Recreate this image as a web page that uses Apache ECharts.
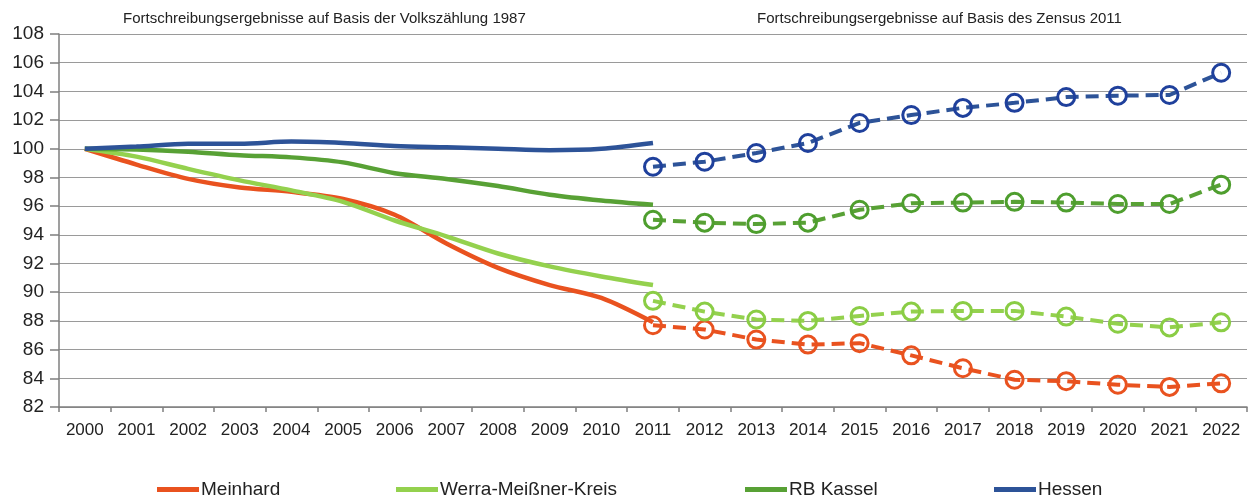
<!DOCTYPE html>
<html><head><meta charset="utf-8">
<script src="https://cdn.jsdelivr.net/npm/echarts@6/dist/echarts.min.js"></script>
<style>html,body{margin:0;padding:0;background:#fff}#c{width:1257px;height:500px}</style>
</head><body><div id="c"></div>
<script>
const years = ['2000','2001','2002','2003','2004','2005','2006','2007','2008','2009','2010','2011','2012','2013','2014','2015','2016','2017','2018','2019','2020','2021','2022'];
const yTicks = {min: 82, max: 108, step: 2};
const titleLeft = 'Fortschreibungsergebnisse auf Basis der Volkszählung 1987';
const titleRight = 'Fortschreibungsergebnisse auf Basis des Zensus 2011';
const seriesNames = ['Meinhard', 'Werra-Meißner-Kreis', 'RB Kassel', 'Hessen'];

// 2000-2011 (Basis Volkszählung 1987)
const meinhardOld = [100, 98.9, 97.9, 97.3, 97.0, 96.5, 95.4, 93.4, 91.7, 90.5, 89.6, 87.9];
const werraOld    = [100, 99.45, 98.6, 97.8, 97.1, 96.3, 95.0, 93.9, 92.7, 91.8, 91.1, 90.5];
const kasselOld   = [100, 99.95, 99.8, 99.55, 99.4, 99.05, 98.3, 97.9, 97.4, 96.8, 96.4, 96.1];
const hessenOld   = [100, 100.15, 100.35, 100.35, 100.5, 100.4, 100.2, 100.1, 100.0, 99.9, 100.0, 100.4];

// 2011-2022 (Basis Zensus 2011)
const meinhardNew = [87.7, 87.4, 86.7, 86.35, 86.45, 85.6, 84.7, 83.9, 83.8, 83.55, 83.4, 83.65];
const werraNew    = [89.4, 88.65, 88.1, 88.0, 88.35, 88.65, 88.7, 88.7, 88.3, 87.8, 87.55, 87.9];
const kasselNew   = [95.05, 94.85, 94.75, 94.85, 95.75, 96.2, 96.25, 96.3, 96.25, 96.15, 96.15, 97.5];
const hessenNew   = [98.75, 99.1, 99.7, 100.4, 101.8, 102.35, 102.85, 103.2, 103.6, 103.7, 103.75, 105.3];

const colors = ['#E9521F', '#94D14E', '#58A135', '#2D5398'];
const markerColors = ['#E9521F', '#8ACD45', '#4E9E2E', '#1F409C'];

const oldData = [meinhardOld, werraOld, kasselOld, hessenOld];
const newData = [meinhardNew, werraNew, kasselNew, hessenNew];
const offset = years.indexOf('2011');

const series = [];
seriesNames.forEach((n, i) => {
  series.push({
    name: n, type: 'line', data: oldData[i], smooth: 0.3, showSymbol: false,
    lineStyle: {color: colors[i], width: 4.5}, itemStyle: {color: colors[i]},
    z: 2 + i
  });
});
seriesNames.forEach((n, i) => {
  const d = years.map((y, k) => k >= offset ? newData[i][k - offset] : null);
  series.push({
    name: n, type: 'line', data: d, smooth: false, symbol: 'circle', symbolSize: 17,
    lineStyle: {color: colors[i], width: 4, type: [13, 7]},
    itemStyle: {color: 'rgba(255,255,255,0)', borderColor: markerColors[i], borderWidth: 3},
    z: 6 + i
  });
});

const legendLefts = [152, 391, 740, 989];
const legends = seriesNames.map((n, i) => ({
  data: [{name: n, itemStyle: {color: colors[i]}}],
  left: legendLefts[i], top: 475, icon: 'rect', itemWidth: 42, itemHeight: 5,
  textStyle: {fontFamily: 'Liberation Sans, Arial', fontSize: 19, color: '#222', padding: [0,0,0,-3]},
  selectedMode: false
}));

const chart = echarts.init(document.getElementById('c'), null, {renderer: 'canvas'});
chart.setOption({
  animation: false,
  backgroundColor: '#fff',
  grid: {left: 59, right: 10, top: 34, bottom: 93, containLabel: false},
  legend: legends,
  graphic: [
    {type: 'text', left: 123, top: 11, style: {text: titleLeft, font: '15px "Liberation Sans", Arial', fill: '#222'}},
    {type: 'text', left: 757, top: 11, style: {text: titleRight, font: '15px "Liberation Sans", Arial', fill: '#222'}}
  ],
  xAxis: {
    type: 'category', data: years, boundaryGap: true,
    axisLine: {lineStyle: {color: '#7f7f7f', width: 1.5}},
    axisTick: {show: true, length: 5, lineStyle: {color: '#7f7f7f', width: 1.5}},
    axisLabel: {fontFamily: 'Liberation Sans, Arial', fontSize: 17, color: '#222', margin: 15, interval: 0}
  },
  yAxis: {
    type: 'value', min: yTicks.min, max: yTicks.max, interval: yTicks.step,
    axisLine: {show: true, lineStyle: {color: '#7f7f7f', width: 1.5}},
    axisTick: {show: true, length: 9, lineStyle: {color: '#7f7f7f', width: 1.5}},
    axisLabel: {fontFamily: 'Liberation Sans, Arial', fontSize: 19, color: '#222', margin: 15},
    splitLine: {lineStyle: {color: '#9a9a9a', width: 1.2}}
  },
  series: series
});
</script></body></html>
